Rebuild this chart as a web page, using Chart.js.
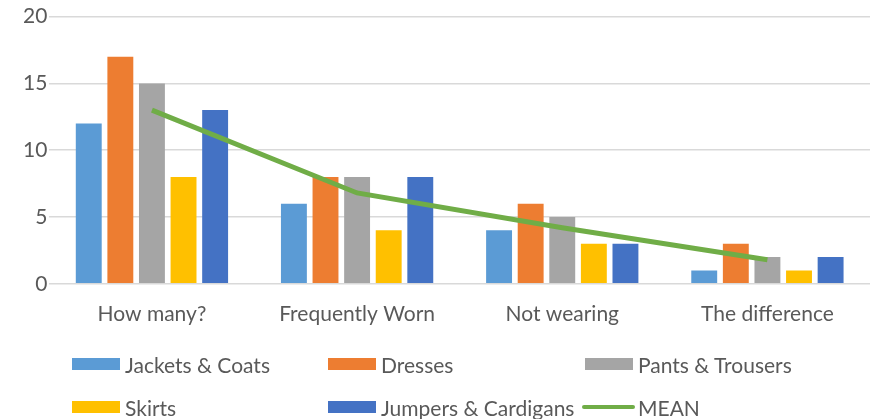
<!DOCTYPE html>
<html>
<head>
<meta charset="utf-8">
<script src="https://cdn.jsdelivr.net/npm/chart.js@4"></script>
<style>
  html, body { margin: 0; padding: 0; background: #fff; }
  #wrap { position: relative; width: 873px; height: 419px; overflow: hidden; }
  #chart { position: absolute; left: 0; top: 2px; }
  #legend { position: absolute; left: 0; top: 0; width: 873px; height: 419px; pointer-events: none;
    font-family: Lato, "Open Sans", sans-serif; font-size: 21px; color: #595959; }
  .item { position: absolute; display: flex; align-items: center; white-space: nowrap; }
  .swatch { display: inline-block; width: 48px; height: 12px; margin-right: 5px; }
  .swline { display: inline-block; width: 53px; height: 4px; margin-right: 3px; border-radius: 2px; }
</style>
</head>
<body>
<div id="wrap">
  <canvas id="chart" width="873" height="436"></canvas>
  <div id="legend"></div>
</div>
<script>
const categories = ['How many?', 'Frequently Worn', 'Not wearing', 'The difference'];
const jacketsCoats = [12, 6, 4, 1];
const dresses = [17, 8, 6, 3];
const pantsTrousers = [15, 8, 5, 2];
const skirts = [8, 4, 3, 1];
const jumpersCardigans = [13, 8, 3, 2];
const meanValues = [13, 6.8, 4.2, 1.8];
const yTicks = [0, 5, 10, 15, 20];

const colors = {
    jackets: '#5B9BD5',
    dresses: '#ED7D31',
    pants: '#A5A5A5',
    skirts: '#FFC000',
    jumpers: '#4472C4',
    mean: '#70AD47'
};

function barSet(label, data, color) {
    return {
        type: 'bar',
        label: label,
        data: data,
        backgroundColor: color,
        barPercentage: 0.82,
        categoryPercentage: 0.77,
        order: 2
    };
}

const ctx = document.getElementById('chart').getContext('2d');
new Chart(ctx, {
    data: {
        labels: categories,
        datasets: [
            barSet('Jackets & Coats', jacketsCoats, colors.jackets),
            barSet('Dresses', dresses, colors.dresses),
            barSet('Pants & Trousers', pantsTrousers, colors.pants),
            barSet('Skirts', skirts, colors.skirts),
            barSet('Jumpers & Cardigans', jumpersCardigans, colors.jumpers),
            {
                type: 'line',
                label: 'MEAN',
                data: meanValues,
                borderColor: colors.mean,
                borderWidth: 5,
                pointRadius: 0,
                tension: 0,
                order: 1
            }
        ]
    },
    options: {
        responsive: false,
        animation: false,
        layout: { padding: { left: 21, right: 3, top: 6, bottom: 101 } },
        plugins: { legend: { display: false }, tooltip: { enabled: false } },
        scales: {
            x: {
                grid: { display: false },
                border: { display: false },
                ticks: { color: '#595959', font: { family: 'Lato', size: 21 }, padding: 10 }
            },
            y: {
                min: 0,
                max: 20,
                afterBuildTicks: function(axis) {
                    axis.ticks = yTicks.map(v => ({ value: v }));
                },
                grid: { color: '#D9D9D9', lineWidth: 1.5, drawTicks: false },
                border: { display: false },
                ticks: { color: '#595959', font: { family: 'Lato', size: 21 }, padding: 2 }
            }
        }
    }
});

// legend laid out in columns like the original
const legendItems = [
    { label: 'Jackets & Coats', color: colors.jackets, x: 72, y: 364 },
    { label: 'Dresses', color: colors.dresses, x: 328, y: 364 },
    { label: 'Pants & Trousers', color: colors.pants, x: 585, y: 364 },
    { label: 'Skirts', color: colors.skirts, x: 72, y: 407 },
    { label: 'Jumpers & Cardigans', color: colors.jumpers, x: 328, y: 407 },
    { label: 'MEAN', color: colors.mean, x: 582, y: 407, line: true }
];
const legendBox = document.getElementById('legend');
legendItems.forEach(function(it) {
    const el = document.createElement('div');
    el.className = 'item';
    el.style.left = it.x + 'px';
    el.style.top = (it.y - 14) + 'px';
    el.style.height = '28px';
    const sw = document.createElement('span');
    sw.className = it.line ? 'swline' : 'swatch';
    sw.style.background = it.color;
    el.appendChild(sw);
    const tx = document.createElement('span');
    tx.textContent = it.label;
    el.appendChild(tx);
    legendBox.appendChild(el);
});
</script>
</body>
</html>
